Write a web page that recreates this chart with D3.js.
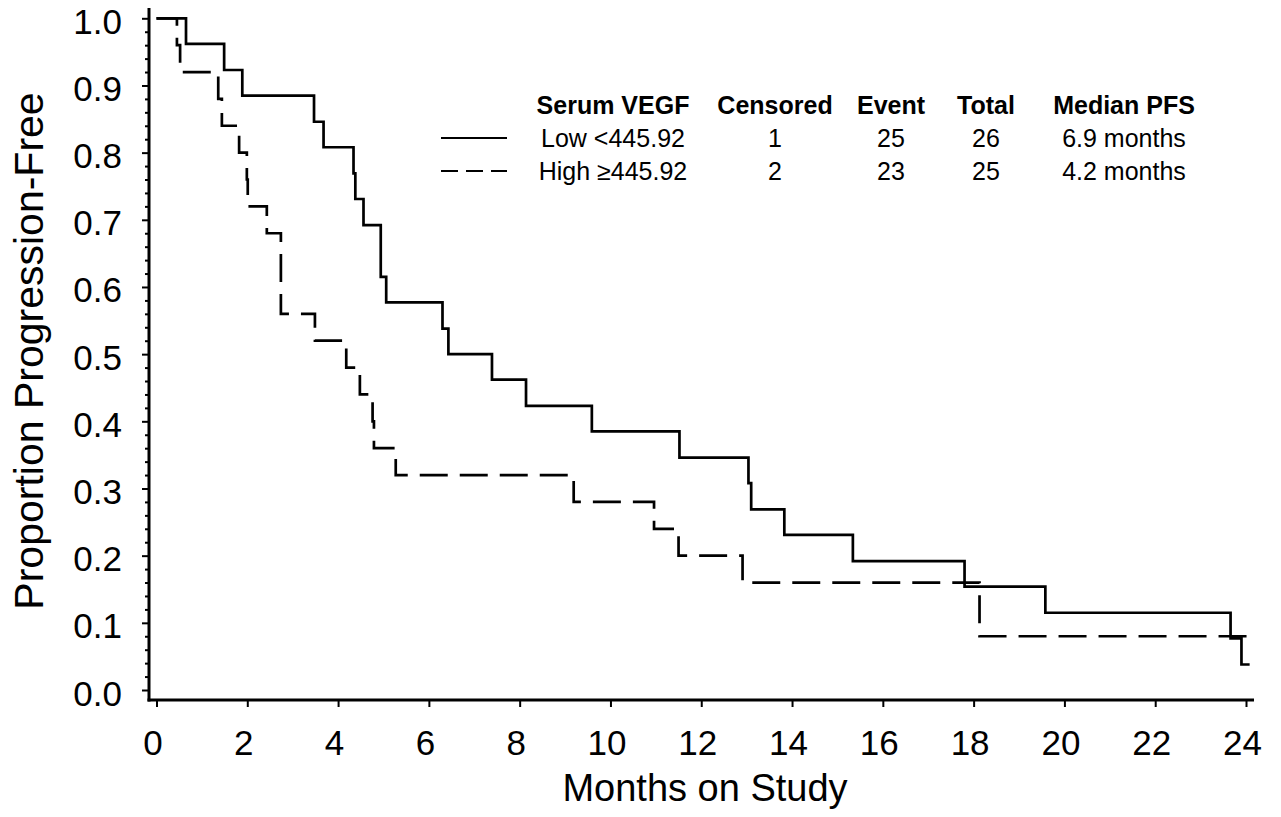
<!DOCTYPE html>
<html>
<head>
<meta charset="utf-8">
<script src="https://cdn.jsdelivr.net/npm/d3@7"></script>
<style>
  html, body { margin: 0; padding: 0; background: #fff; }
  svg { display: block; font-family: "Liberation Sans", Arial, sans-serif; }
</style>
</head>
<body>
<svg id="chart" width="1281" height="817"></svg>
<script>
// Kaplan-Meier step points (months, proportion)
const lowTimes  = [0, 0.65, 1.49, 1.89, 3.47, 3.68, 4.34, 4.38, 4.56, 4.94, 5.06, 6.30, 6.43, 7.39, 8.14, 9.59, 11.52, 13.04, 13.10, 13.83, 15.34, 17.80, 19.58, 23.66, 23.90, 24.08];
const lowSurv   = [1, 0.962, 0.923, 0.885, 0.846, 0.808, 0.769, 0.731, 0.692, 0.615, 0.577, 0.538, 0.500, 0.462, 0.423, 0.385, 0.346, 0.308, 0.269, 0.231, 0.192, 0.154, 0.115, 0.077, 0.038, 0.038];
const highTimes = [0, 0.45, 0.52, 1.36, 1.44, 1.82, 1.99, 2.01, 2.43, 2.74, 3.49, 4.18, 4.48, 4.76, 4.79, 5.27, 9.19, 10.96, 11.50, 12.91, 18.13, 24.08];
const highSurv  = [1, 0.96, 0.92, 0.88, 0.84, 0.80, 0.76, 0.72, 0.68, 0.56, 0.52, 0.48, 0.44, 0.40, 0.36, 0.32, 0.28, 0.24, 0.20, 0.16, 0.08, 0.08];

const xTicks      = d3.range(0, 25, 2);
const yTicks      = d3.range(0, 11).map(d => d / 10);
const yMinorTicks = d3.range(0, 51).map(d => d / 50).filter((d, i) => i % 5 !== 0);

const legendHeaders = ['Serum VEGF', 'Censored', 'Event', 'Total', 'Median PFS'];
const legendRows = [
    ['Low <445.92', '1', '25', '26', '6.9 months'],
    ['High \u2265445.92', '2', '23', '25', '4.2 months']
];

const svg = d3.select('#chart');

const axisX = 149;
const axisY = 700;

const x = d3.scaleLinear().domain([0, 24]).range([156.5, 1246]);
const y = d3.scaleLinear().domain([0, 1]).range([690, 18.3]);

// axis lines
svg.append('line')
    .attr('x1', axisX).attr('x2', axisX)
    .attr('y1', 8).attr('y2', axisY + 1.5)
    .attr('stroke', '#000').attr('stroke-width', 3);
svg.append('line')
    .attr('x1', axisX - 1.5).attr('x2', x(24) + 8)
    .attr('y1', axisY).attr('y2', axisY)
    .attr('stroke', '#000').attr('stroke-width', 3);

// y minor ticks
const yMinor = svg.append('g')
    .attr('transform', `translate(${axisX},0)`)
    .call(d3.axisLeft(y).tickValues(yMinorTicks).tickSize(4).tickFormat(''));
yMinor.select('.domain').remove();
yMinor.selectAll('line').attr('stroke-width', 2);

// y major ticks
const yAxis = svg.append('g')
    .attr('transform', `translate(${axisX},0)`)
    .call(d3.axisLeft(y).tickValues(yTicks).tickSize(7).tickPadding(20).tickFormat(d3.format('.1f')));
yAxis.select('.domain').remove();
yAxis.selectAll('line').attr('stroke-width', 2);
yAxis.selectAll('text')
    .attr('font-size', 35)
    .attr('font-family', '"Liberation Sans", Arial, sans-serif')
    .attr('dy', null)
    .attr('y', 15)
    .attr('fill', '#000');

// x ticks
const xAxis = svg.append('g')
    .attr('transform', `translate(0,${axisY})`)
    .call(d3.axisBottom(x).tickValues(xTicks).tickSize(7).tickFormat(d3.format('d')));
xAxis.select('.domain').remove();
xAxis.selectAll('line').attr('stroke-width', 2);
xAxis.selectAll('text')
    .attr('font-size', 35)
    .attr('font-family', '"Liberation Sans", Arial, sans-serif')
    .attr('dy', null)
    .attr('y', 55)
    .attr('x', -4)
    .attr('fill', '#000');

// axis titles
svg.append('text')
    .attr('x', 705).attr('y', 801)
    .attr('text-anchor', 'middle')
    .attr('font-size', 38)
    .text('Months on Study');

svg.append('text')
    .attr('transform', 'translate(43,351) rotate(-90)')
    .attr('text-anchor', 'middle')
    .attr('font-size', 41)
    .text('Proportion Progression-Free');

// curves
const step = d3.line()
    .x(d => x(d[0]))
    .y(d => y(d[1]))
    .curve(d3.curveStepAfter);

svg.append('path')
    .datum(d3.zip(lowTimes, lowSurv))
    .attr('d', step)
    .attr('fill', 'none')
    .attr('stroke', '#000')
    .attr('stroke-width', 2.7);

svg.append('path')
    .datum(d3.zip(highTimes, highSurv))
    .attr('d', step)
    .attr('fill', 'none')
    .attr('stroke', '#000')
    .attr('stroke-width', 2.7)
    .attr('stroke-dasharray', '28,12');

// legend table
const colX = [613, 775, 891, 986, 1124];
const headY = 114;
const rowY  = [147, 180];

svg.append('g').selectAll('text')
    .data(legendHeaders)
    .join('text')
    .attr('x', (d, i) => colX[i])
    .attr('y', headY)
    .attr('text-anchor', 'middle')
    .attr('font-size', 25)
    .attr('font-weight', 'bold')
    .text(d => d);

legendRows.forEach((row, r) => {
    svg.append('g').selectAll('text')
        .data(row)
        .join('text')
        .attr('x', (d, i) => colX[i])
        .attr('y', rowY[r])
        .attr('text-anchor', 'middle')
        .attr('font-size', 25)
        .text(d => d);

    svg.append('line')
        .attr('x1', 441).attr('x2', 507)
        .attr('y1', rowY[r] - 9).attr('y2', rowY[r] - 9)
        .attr('stroke', '#000')
        .attr('stroke-width', 2)
        .attr('stroke-dasharray', r === 1 ? '17,8' : null);
});
</script>
</body>
</html>
